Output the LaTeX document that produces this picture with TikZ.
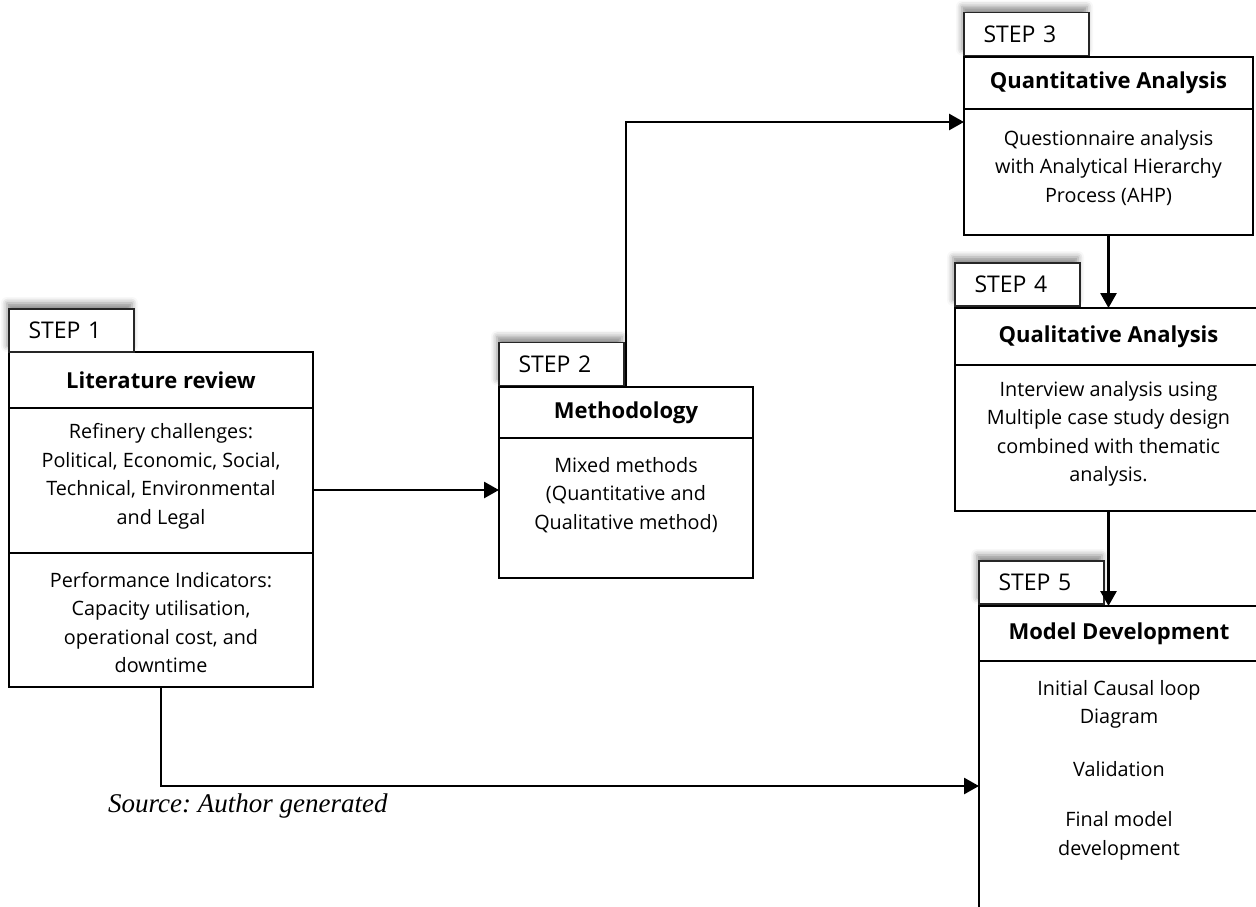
\documentclass[tikz,border=0pt]{standalone}
\usepackage{fontspec}
\setmainfont{Open Sans}
\newfontfamily\srcfont{Liberation Serif}
\usetikzlibrary{arrows.meta,shadows.blur}
\begin{document}
\begin{tikzpicture}[x=1pt,y=-1pt,
  heading/.style={draw=black, line width=2.8pt, fill=white, anchor=north west,
    inner sep=0pt, outer sep=0pt, align=center,
    font=\fontsize{22}{26}\selectfont\bfseries},
  panel/.style={draw=black, line width=2.8pt, fill=white, anchor=north west,
    inner sep=0pt, outer sep=0pt},
  bodytext/.style={align=center, inner sep=0pt, font=\fontsize{19.8}{28.5}\selectfont},
  steptab/.style={draw=black!85, line width=1.4pt, fill=white, anchor=south west,
    minimum width=125pt, minimum height=43pt, text width=86pt,
    inner xsep=19.5pt, inner ysep=0pt, outer sep=0pt, align=left,
    font=\fontsize{23}{27}\selectfont,
    blur shadow={shadow xshift=-2pt, shadow yshift=6pt,
      shadow blur radius=6pt, shadow opacity=45}},
  conn/.style={line width=2.8pt, -{Triangle[length=15pt,width=16pt]}}
]
\useasboundingbox (0,0) rectangle (1256,906);
\clip (0,0) rectangle (1256,906);

% Step 1: literature review
\node[heading, minimum width=304pt, minimum height=56pt] (h1) at (9,352) {Literature review};
\node[panel, minimum width=304pt, minimum height=145pt] (b1) at (h1.south west) {};
\node[panel, minimum width=304pt, minimum height=134pt] (c1) at (b1.south west) {};
\node[steptab] (s1) at (h1.north west) {STEP 1};
\node[bodytext] (tb1) at ([yshift=4pt]b1.center)
  {Refinery challenges:\\Political, Economic, Social,\\Technical, Environmental\\and Legal};
\node[bodytext] (tc1) at ([yshift=-2.5pt]c1.center)
  {Performance Indicators:\\Capacity utilisation,\\operational cost, and\\downtime};

% Step 2: methodology
\node[heading, minimum width=254pt, minimum height=51pt] (h2) at (499,387) {Methodology};
\node[panel, minimum width=254pt, minimum height=140pt] (b2) at (h2.south west) {};
\node[steptab] (s2) at ([yshift=1.5pt]h2.north west) {STEP 2};
\node[bodytext] (tb2) at ([yshift=13pt]b2.center)
  {Mixed methods\\(Quantitative and\\Qualitative method)};

% Step 3: quantitative analysis
\node[heading, minimum width=289pt, minimum height=52pt] (h3) at (964,57) {Quantitative Analysis};
\node[panel, minimum width=289pt, minimum height=126pt] (b3) at (h3.south west) {};
\node[steptab] (s3) at ([yshift=1.5pt]h3.north west) {STEP 3};
\node[bodytext] (tb3) at ([yshift=4pt]b3.center)
  {Questionnaire analysis\\with Analytical Hierarchy\\Process (AHP)};

% Step 4: qualitative analysis
\node[heading, minimum width=307pt, minimum height=57pt] (h4) at (955,308) {Qualitative Analysis};
\node[panel, minimum width=307pt, minimum height=146pt] (b4) at (h4.south west) {};
\node[steptab] (s4) at ([yshift=2pt]h4.north west) {STEP 4};
\node[bodytext] (tb4) at ([yshift=4pt]b4.center)
  {Interview analysis using\\Multiple case study design\\combined with thematic\\analysis.};

% Step 5: model development
\node[heading, minimum width=280pt, minimum height=55pt] (h5) at (979,606) {Model Development};
\node[panel, minimum width=280pt, minimum height=300pt] (b5) at (h5.south west) {};
\node[steptab] (s5) at ([yshift=2pt]h5.north west) {STEP 5};
\node[bodytext, anchor=north] (tb5) at ([yshift=-19pt]b5.north)
  {Initial Causal loop\\Diagram\\[24pt]Validation\\[22pt]Final model\\development};

% Connectors
\draw[conn] ([yshift=-9.5pt]b1.east) coordinate (p12) -- (p12 -| b2.west);
\draw[conn] (h2.north) |- ([yshift=-13pt]b3.north west);
\draw[conn] (b3.south) -- (b3.south |- h4.north);
\draw[conn] (b4.south) -- (b4.south |- h5.north);
\draw[conn] (c1.south) |- ([yshift=-125pt]b5.north west);

% Caption
\node[anchor=west, inner sep=0pt, font=\srcfont\itshape\frenchspacing\fontsize{27}{30}\selectfont] (src)
  at (108,806) {Source: Author generated};
\end{tikzpicture}
\end{document}
